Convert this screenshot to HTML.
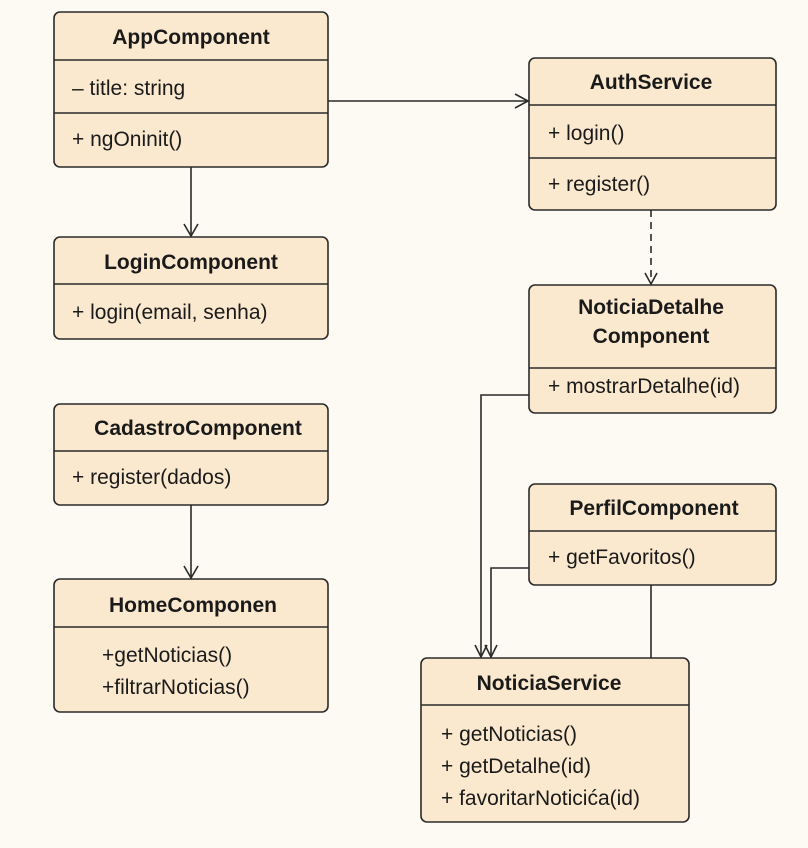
<!DOCTYPE html>
<html><head><meta charset="utf-8"><style>
html,body{margin:0;padding:0;background:#fdfaf3;}
svg{display:block}
text{font-family:"Liberation Sans","DejaVu Sans",sans-serif;fill:#1a1a1a}
.t{font-weight:bold;font-size:21px}
.m{font-size:21px}
.b{fill:#fbe9cf;stroke:#2a2a2a;stroke-width:1.6}
.l{stroke:#2a2a2a;stroke-width:1.6;fill:none}
</style></head><body>
<svg width="808" height="848" viewBox="0 0 808 848">
<rect width="808" height="848" fill="#fdfaf3"/>
<rect class="b" x="54" y="12" width="274" height="155" rx="6"/>
<line class="l" x1="54" y1="60" x2="328" y2="60"/>
<line class="l" x1="54" y1="113" x2="328" y2="113"/>
<text class="t" x="191" y="44" text-anchor="middle">AppComponent</text>
<text class="m" x="72" y="95">– title: string</text>
<text class="m" x="72" y="146">+ ngOninit()</text>
<rect class="b" x="54" y="237" width="274" height="102" rx="6"/>
<line class="l" x1="54" y1="284" x2="328" y2="284"/>
<text class="t" x="191" y="269" text-anchor="middle">LoginComponent</text>
<text class="m" x="72" y="319">+ login(email, senha)</text>
<rect class="b" x="54" y="404" width="274" height="101" rx="6"/>
<line class="l" x1="54" y1="451" x2="328" y2="451"/>
<text class="t" x="198" y="435" text-anchor="middle">CadastroComponent</text>
<text class="m" x="72" y="484">+ register(dados)</text>
<rect class="b" x="54" y="579" width="274" height="133" rx="6"/>
<line class="l" x1="54" y1="627" x2="328" y2="627"/>
<text class="t" x="193" y="612" text-anchor="middle">HomeComponen</text>
<text class="m" x="102" y="662">+getNoticias()</text>
<text class="m" x="102" y="694">+filtrarNoticias()</text>
<rect class="b" x="529" y="58" width="247" height="152" rx="6"/>
<line class="l" x1="529" y1="105" x2="776" y2="105"/>
<line class="l" x1="529" y1="158" x2="776" y2="158"/>
<text class="t" x="651" y="89" text-anchor="middle">AuthService</text>
<text class="m" x="548" y="140">+ login()</text>
<text class="m" x="548" y="191">+ register()</text>
<rect class="b" x="529" y="285" width="247" height="128" rx="6"/>
<line class="l" x1="529" y1="368" x2="776" y2="368"/>
<text class="t" x="651" y="314" text-anchor="middle">NoticiaDetalhe</text>
<text class="t" x="651" y="343" text-anchor="middle">Component</text>
<text class="m" x="548" y="393">+ mostrarDetalhe(id)</text>
<rect class="b" x="529" y="484" width="247" height="101" rx="6"/>
<line class="l" x1="529" y1="531" x2="776" y2="531"/>
<text class="t" x="654" y="515" text-anchor="middle">PerfilComponent</text>
<text class="m" x="548" y="564">+ getFavoritos()</text>
<rect class="b" x="421" y="658" width="268" height="164" rx="6"/>
<line class="l" x1="421" y1="705" x2="689" y2="705"/>
<text class="t" x="549" y="690" text-anchor="middle">NoticiaService</text>
<text class="m" x="441" y="741">+ getNoticias()</text>
<text class="m" x="441" y="773">+ getDetalhe(id)</text>
<text class="m" x="441" y="805">+ favoritarNoticića(id)</text>
<line class="l" x1="328" y1="101" x2="528" y2="101"/>
<polyline class="l" points="515,94 528,101 515,108"/>
<line class="l" x1="191" y1="167" x2="191" y2="236"/>
<polyline class="l" points="184,224 191,236 198,224"/>
<line class="l" x1="191" y1="505" x2="191" y2="578"/>
<polyline class="l" points="184,566 191,578 198,566"/>
<line class="l" x1="651" y1="210" x2="651" y2="284" stroke-dasharray="7,5"/>
<polyline class="l" points="645,273 651,284 657,273"/>
<polyline class="l" points="529,395 481,395 481,657"/>
<polyline class="l" points="475,645 481,657 487,645"/>
<polyline class="l" points="529,568 491,568 491,657"/>
<polyline class="l" points="485,645 491,657 497,645"/>
<line class="l" x1="651" y1="585" x2="651" y2="658"/>
</svg>
</body></html>
